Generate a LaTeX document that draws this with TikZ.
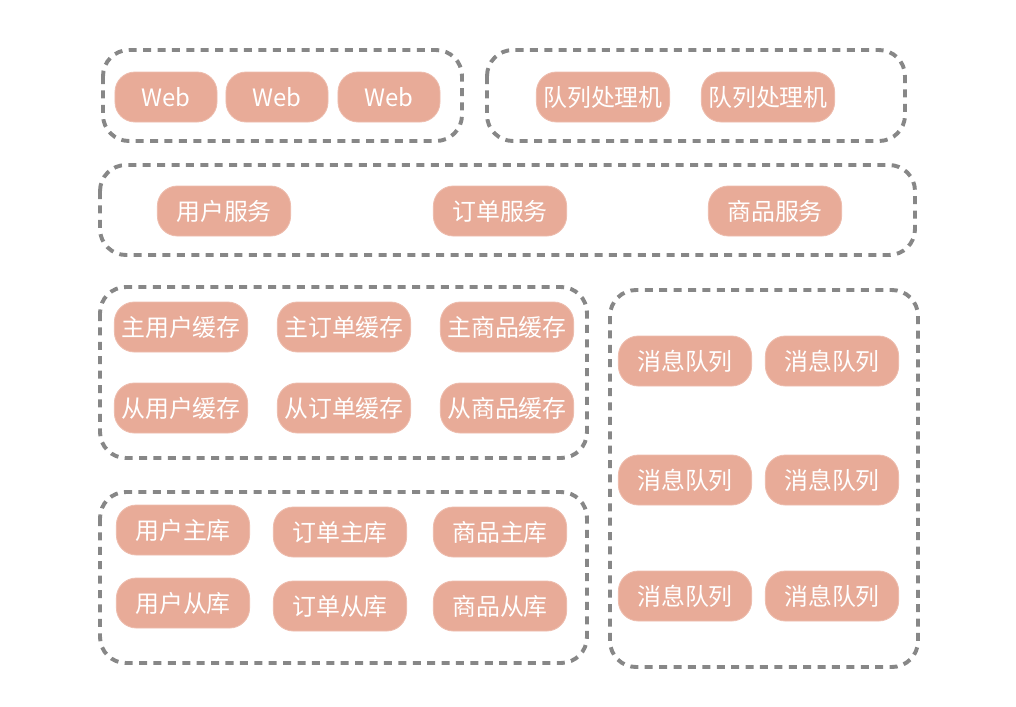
\documentclass[tikz,border=0pt]{standalone}
\usepackage{fontspec}
\setmainfont{Noto Sans CJK SC}
\definecolor{boxfill}{HTML}{E8AB98}
\definecolor{groupline}{HTML}{878787}
\tikzset{
  svc/.style={fill=boxfill,draw=boxfill!80!white,line width=0.6pt,rounded corners=0.5cm,
    minimum width=3.33cm,minimum height=1.25cm,text=white,font=\fontsize{17}{20}\selectfont,inner sep=0pt},
  websvc/.style={svc,minimum width=2.55cm},
  group/.style={draw=groupline,line width=2.8pt,dash pattern=on 0.2cm off 0.16cm,rounded corners=0.65cm}
}
\newcommand{\svcbox}[3]{%
 \node[svc] ({#1}) at ({#2}) {#3};%
}
\newcommand{\webbox}[2]{%
 \node[websvc] ({#1}) at ({#2}) {Web};%
}

\begin{document}
\begin{tikzpicture}[x=0.025cm,y=-0.025cm]
  \useasboundingbox (0,0) rectangle (1016,706);
  % groups
  \draw[group] (103,50) rectangle (462,141);
  \draw[group] (487,50) rectangle (905,141);
  \draw[group] (100,165) rectangle (915,255);
  \draw[group] (100,287) rectangle (587,458);
  \draw[group] (610,290) rectangle (918,667);
  \draw[group] (100,492) rectangle (587,663);
  % web and workers
  \webbox{W1}{166,97};
  \webbox{W2}{277,97};
  \webbox{W3}{389,97};
  \svcbox{Q1}{603,97}{队列处理机};
  \svcbox{Q2}{768,97}{队列处理机};
  % services
  \svcbox{S1}{224,211}{用户服务};
  \svcbox{S2}{500,211}{订单服务};
  \svcbox{S3}{775,211}{商品服务};
  % caches
  \svcbox{C1}{181,327}{主用户缓存};
  \svcbox{C2}{344,327}{主订单缓存};
  \svcbox{C3}{507,327}{主商品缓存};
  \svcbox{C4}{181,408}{从用户缓存};
  \svcbox{C5}{344,408}{从订单缓存};
  \svcbox{C6}{507,408}{从商品缓存};
  % message queues
  \foreach \y [count=\i] in {361,480,596} {
    \svcbox{M\i a}{685,\y}{消息队列}
    \svcbox{M\i b}{832,\y}{消息队列}
  }
  % databases
  \svcbox{D1}{183,530}{用户主库};
  \svcbox{D2}{340,532}{订单主库};
  \svcbox{D3}{500,532}{商品主库};
  \svcbox{D4}{183,603}{用户从库};
  \svcbox{D5}{340,606}{订单从库};
  \svcbox{D6}{500,606}{商品从库};
\end{tikzpicture}
\end{document}
